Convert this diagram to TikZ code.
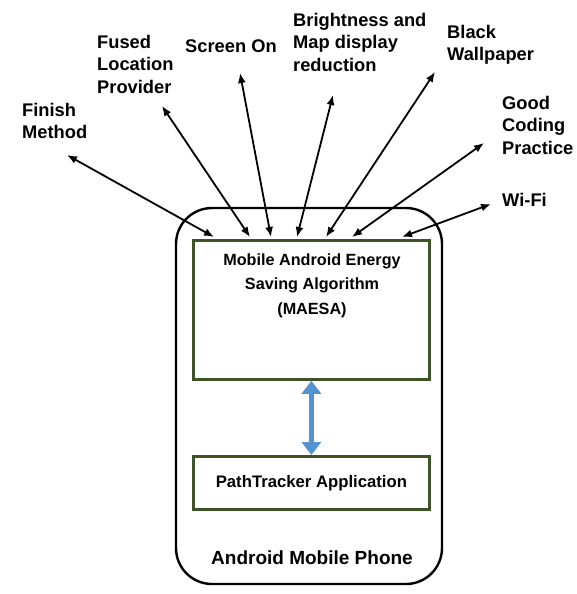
\documentclass[tikz,border=0pt]{standalone}
\usepackage{fontspec}
\setmainfont{Liberation Sans}
\usetikzlibrary{arrows.meta}
\definecolor{boxgreen}{RGB}{62,84,38}
\definecolor{linkblue}{RGB}{84,146,208}

\begin{document}
\begin{tikzpicture}[x=1pt,y=-1pt,
  link/.style={{Latex[length=10pt,width=8pt]}-{Latex[length=10pt,width=8pt]},line width=1.8pt},
  label/.style={font=\bfseries\fontsize{18.3}{22.5}\selectfont,align=left,inner sep=0pt,anchor=north west},
  algbox/.style={draw=boxgreen,line width=2.8pt,fill=white}]
  \useasboundingbox (0,0) rectangle (577,594);
  % phone body
  \draw[line width=2.4pt,rounded corners=36pt] (176,208) rectangle (442,584);
  \node[algbox,minimum width=236pt,minimum height=139pt,anchor=north west] (maesa) at (192,239) {};
  \node[font=\bfseries\fontsize{16.2}{24.5}\selectfont,align=center,anchor=north] (maesatext) at (312,250)
    {Mobile Android Energy\\Saving Algorithm\\(MAESA)};
  \node[algbox,minimum width=236pt,minimum height=53pt,anchor=north west] (tracker) at (192,455)
    {\bfseries\fontsize{16.7}{19}\selectfont PathTracker Application};
  \node[font=\bfseries\fontsize{19}{22}\selectfont] (phone) at (312,558) {Android Mobile Phone};
  \draw[linkblue,line width=4.5pt,{Triangle[length=13pt,width=19pt]}-{Triangle[length=13pt,width=19pt]}]
    (maesa.south) -- (tracker.north);

  % outside factors
  \node[label] (finish) at (22,103) {Finish\\Method};
  \node[label] (fused) at (97,35) {Fused\\Location\\Provider};
  \node[label] (screen) at (185,40) {Screen On};
  \node[label] (bright) at (293,13) {Brightness and\\Map display\\reduction};
  \node[label] (black) at (447,25) {Black\\Wallpaper};
  \node[label] (coding) at (502,96) {Good\\Coding\\Practice};
  \node[label] (wifi) at (502,193) {Wi-Fi};

  \coordinate (finish-tip) at (67,155);
  \coordinate (fused-tip) at (162,106);
  \coordinate (screen-tip) at (240,73);
  \coordinate (bright-tip) at (333,95);
  \coordinate (black-tip) at (435,72);
  \coordinate (coding-tip) at (484,143);
  \coordinate (wifi-tip) at (491,204);
  \coordinate (in1) at (214,237);
  \coordinate (in2) at (250,237);
  \coordinate (in3) at (271,237);
  \coordinate (in4) at (297,237);
  \coordinate (in5) at (326,237);
  \coordinate (in6) at (352,237);
  \coordinate (in7) at (402,237);

  \draw[link] (finish-tip) -- (in1);
  \draw[link] (fused-tip) -- (in2);
  \draw[link] (screen-tip) -- (in3);
  \draw[link] (bright-tip) -- (in4);
  \draw[link] (black-tip) -- (in5);
  \draw[link] (coding-tip) -- (in6);
  \draw[link] (wifi-tip) -- (in7);
\end{tikzpicture}
\end{document}
